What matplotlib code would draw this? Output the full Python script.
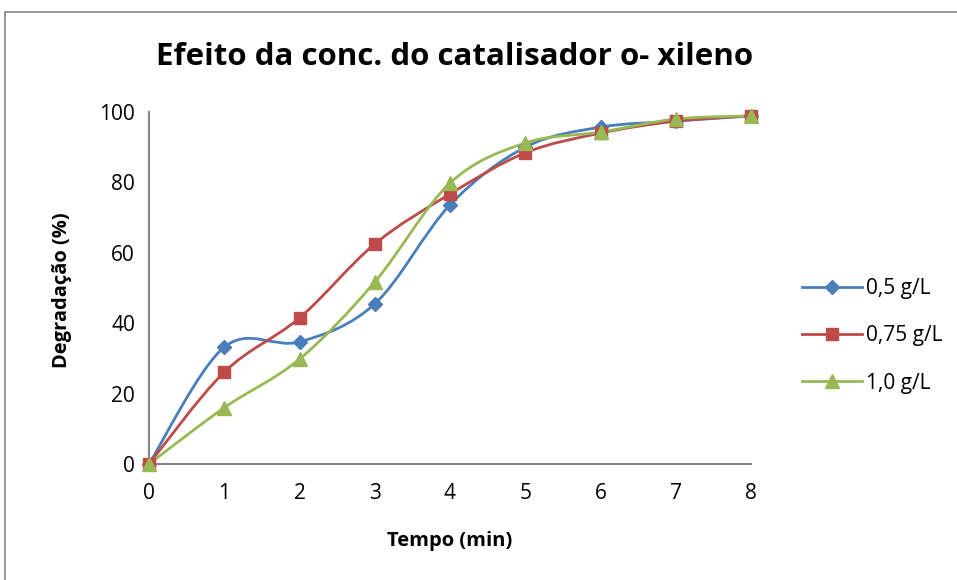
import numpy as np
import matplotlib
matplotlib.use("Agg")
import matplotlib.pyplot as plt
from matplotlib.path import Path
from matplotlib.patches import PathPatch, Rectangle
from matplotlib.lines import Line2D

plt.rcParams["font.family"] = ["Open Sans", "DejaVu Sans"]

tempo = [0, 1, 2, 3, 4, 5, 6, 7, 8]
conc_05 = [0, 33.2, 34.7, 45.5, 73.6, 90.0, 95.7, 97.4, 98.9]
conc_075 = [0, 26.1, 41.5, 62.5, 76.7, 88.4, 94.0, 97.4, 98.9]
conc_10 = [0, 16.0, 29.8, 51.7, 79.8, 91.2, 94.3, 98.0, 98.9]
labels = ["0,5 g/L", "0,75 g/L", "1,0 g/L"]
colors = ["#4A7EBB", "#BE4B48", "#98B954"]
markers = ["D", "s", "^"]
msizes = [7.5, 8.5, 9.5]


def smooth_path(xs, ys, k=1 / 6):
    # cubic Bezier through the points, like a spreadsheet "smoothed line"
    xs = np.asarray(xs, float)
    ys = np.asarray(ys, float)
    n = len(xs)
    verts = [(xs[0], ys[0])]
    codes = [Path.MOVETO]
    for i in range(n - 1):
        i0 = max(i - 1, 0)
        i3 = min(i + 2, n - 1)
        c1 = (xs[i] + (xs[i + 1] - xs[i0]) * k, ys[i] + (ys[i + 1] - ys[i0]) * k)
        c2 = (xs[i + 1] - (xs[i3] - xs[i]) * k, ys[i + 1] - (ys[i3] - ys[i]) * k)
        verts += [c1, c2, (xs[i + 1], ys[i + 1])]
        codes += [Path.CURVE4] * 3
    return Path(verts, codes)


W, H = 957, 580
fig = plt.figure(figsize=(W / 100, H / 100), dpi=100)
fig.patches.append(Rectangle((5 / W, -0.01), 1.0, 1 - 12 / H + 0.01,
                             transform=fig.transFigure, fill=False,
                             edgecolor="#868686", linewidth=1.2))
ax = fig.add_axes([149 / W, 1 - 464 / H, 602 / W, 352 / H])

handles = []
for ys, lab, c, m, ms in zip([conc_05, conc_075, conc_10], labels, colors, markers, msizes):
    ax.add_patch(PathPatch(smooth_path(tempo, ys), facecolor="none",
                           edgecolor=c, linewidth=2.0, zorder=3))
    ax.plot(tempo, ys, linestyle="none", marker=m, markersize=ms,
            color=c, markeredgecolor=c, zorder=4, clip_on=False)
    handles.append(Line2D([], [], color=c, linewidth=2.0, marker=m,
                          markersize=ms, label=lab))

ax.set_xlim(0, 8)
ax.set_ylim(0, 100)
ax.set_xticks(range(0, 9))
ax.set_yticks(range(0, 101, 20))
for s in ["top", "right"]:
    ax.spines[s].set_visible(False)
for s in ["left", "bottom"]:
    ax.spines[s].set_color("#868686")
    ax.spines[s].set_linewidth(1.5)
ax.tick_params(axis="both", labelsize=15, length=0, colors="black")
ax.tick_params(axis="x", pad=14)
ax.tick_params(axis="y", pad=10)

fig.text(455 / W, 1 - 57 / H, "Efeito da conc. do catalisador o- xileno",
         fontsize=22.5, fontweight="bold", ha="center", va="center")
fig.text(450 / W, 1 - 541 / H, "Tempo (min)", fontsize=14.5,
         fontweight="bold", ha="center", va="center")
fig.text(62 / W, 1 - 290 / H, "Degradação (%)", fontsize=14.5,
         fontweight="bold", ha="center", va="center", rotation=90)

fig.legend(handles=handles, loc="center left", bbox_to_anchor=(783 / W, 1 - 336 / H),
           frameon=False, fontsize=15, handlelength=2.9, labelspacing=1.25,
           handletextpad=0.2)

fig.savefig("out.png", dpi=100)
